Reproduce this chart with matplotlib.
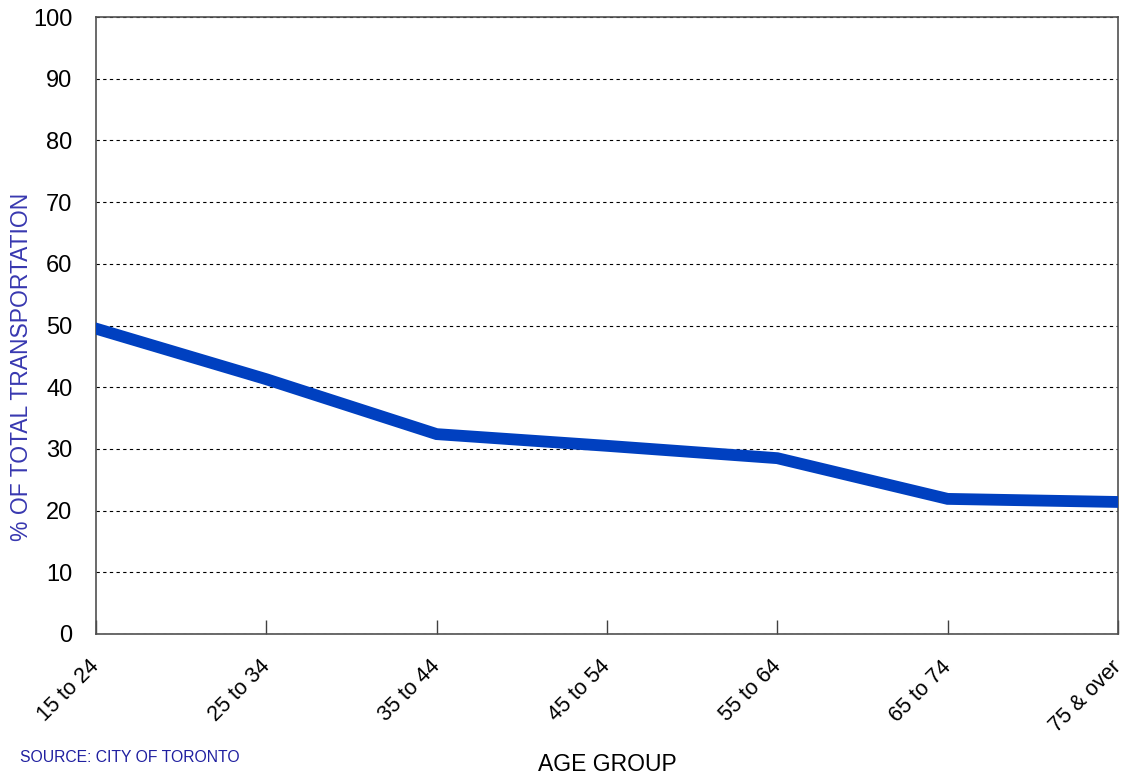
import matplotlib.pyplot as plt
from matplotlib.transforms import ScaledTranslation

plt.rcParams['font.family'] = ['Liberation Sans', 'DejaVu Sans']

age_groups = ["15 to 24", "25 to 34", "35 to 44", "45 to 54", "55 to 64", "65 to 74", "75 & over"]
pct_total = [49.5, 41.3, 32.4, 30.5, 28.5, 21.9, 21.4]
y_ticks = [0, 10, 20, 30, 40, 50, 60, 70, 80, 90, 100]

fig = plt.figure(figsize=(11.33, 7.76), dpi=100)
ax = fig.add_axes([0.0847, 0.183, 0.902, 0.795])

x = range(len(age_groups))
ax.plot(x, pct_total, color='#0040C0', linewidth=8.5, solid_joinstyle='miter', zorder=3)

ax.set_xlim(0, len(age_groups) - 1)
ax.set_ylim(0, 100)
ax.set_yticks(y_ticks)
ax.set_yticklabels([str(v) for v in y_ticks], fontsize=17)
ax.tick_params(axis='y', length=0, pad=17)
ax.set_xticks(list(x))
ax.set_xticklabels(age_groups, rotation=45, ha='right', va='top', rotation_mode='anchor', fontsize=15.5)
ax.tick_params(axis='x', direction='in', length=10, width=1, color='#404040', pad=16)
# nudge the rotated labels a little left, like the original
shift = ScaledTranslation(-5 / 72, 0, fig.dpi_scale_trans)
for lbl in ax.get_xticklabels():
    lbl.set_transform(lbl.get_transform() + shift)

ax.yaxis.grid(True, linestyle=(0, (3, 3)), color='black', linewidth=0.8)
for s in ax.spines.values():
    s.set_color('#505050')
    s.set_linewidth(1.2)

fig.text(0.019, 0.527, '% OF TOTAL TRANSPORTATION', rotation=90, ha='center', va='center',
         color='#3838B0', fontsize=16.5)
fig.text(0.536, 0.0, 'AGE GROUP', ha='center', va='bottom', fontsize=16.5)
fig.text(0.018, 0.014, 'SOURCE: CITY OF TORONTO', ha='left', va='bottom', fontsize=11.3, color='#2020A0')

fig.savefig('out.png', dpi=100)
